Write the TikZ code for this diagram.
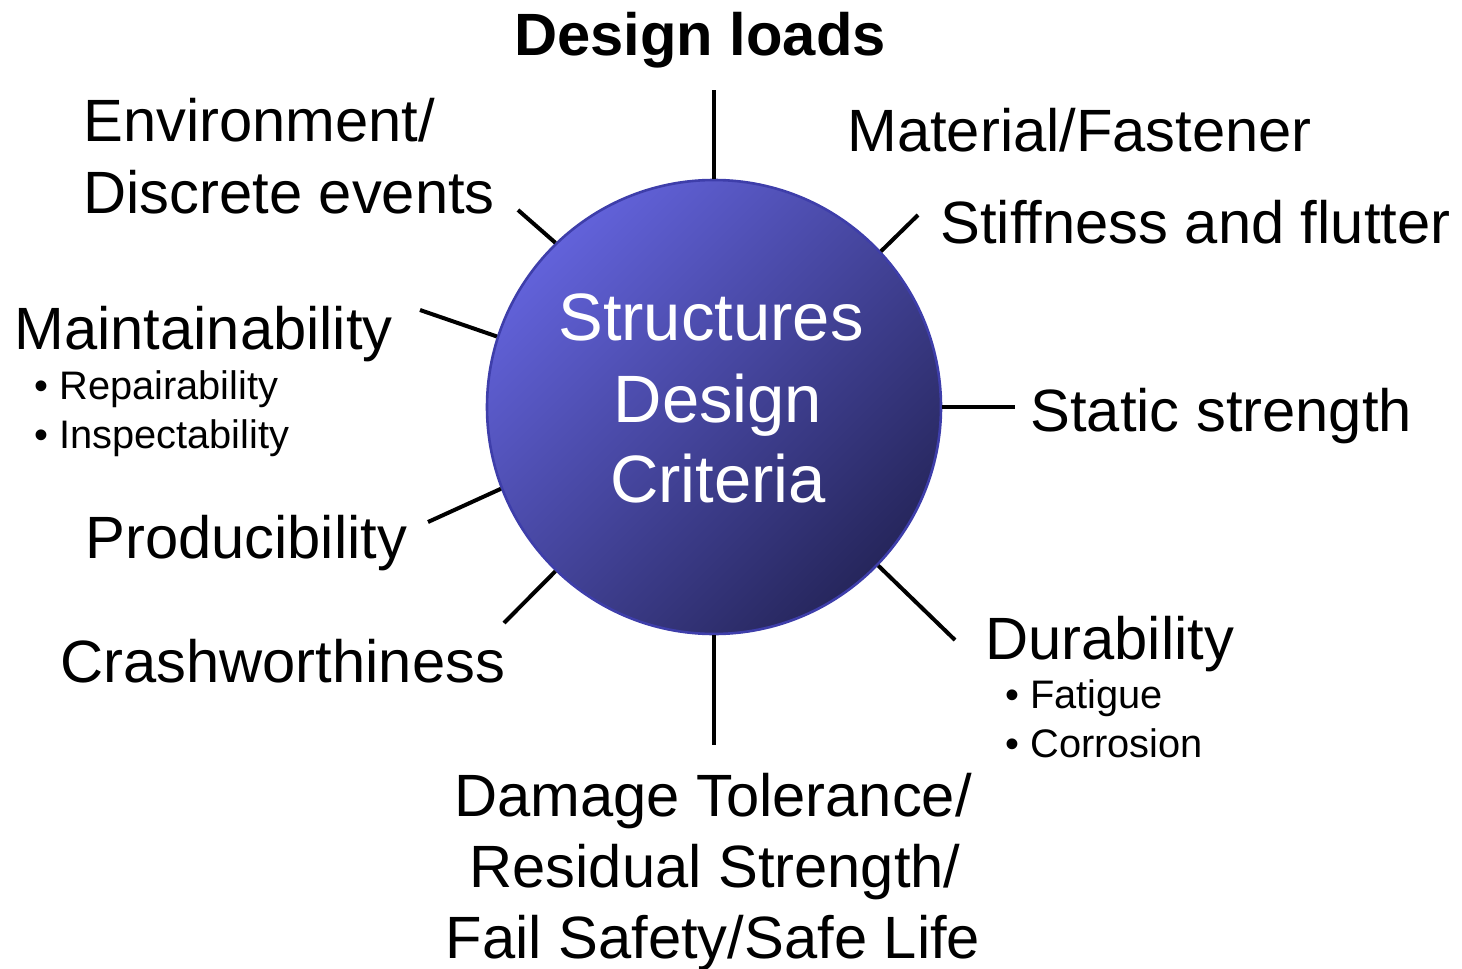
\documentclass[tikz,border=0pt]{standalone}
\usepackage{fontspec}
\setmainfont{Liberation Sans}
\definecolor{circtop}{RGB}{98,98,218}
\definecolor{circbot}{RGB}{38,38,92}
\definecolor{circedge}{RGB}{62,62,170}
\begin{document}
\begin{tikzpicture}[x=0.5pt,y=-0.5pt,
  lbl/.style={anchor=base west, inner sep=0pt, font=\fontsize{29.85}{35}\selectfont},
  clbl/.style={anchor=base, inner sep=0pt, font=\fontsize{29.85}{35}\selectfont},
  sub/.style={anchor=base west, inner sep=0pt, font=\fontsize{19.9}{24}\selectfont},
  intext/.style={anchor=base, inner sep=0pt, text=white, font=\fontsize{33.5}{40}\selectfont},
  circ/.style={circle, minimum size=227pt, inner sep=0pt, draw=circedge, line width=1.3pt,
    top color=circtop, bottom color=circbot, shading angle=45},
  spoke/.style={draw=black, line width=2pt}
]
\useasboundingbox (0,0) rectangle (1462,969);

% central circle
\node[circ] (c) at (714,407) {};
\node[intext] (t1) at (711,340) {Structures};
\node[intext] (t2) at (718,422) {Design};
\node[intext] (t3) at (718,502) {Criteria};

% spoke ends
\coordinate (eT)  at (714,90);
\coordinate (eEnv) at (518,210);
\coordinate (eSt) at (918,215);
\coordinate (eMa) at (420,310);
\coordinate (eSs) at (1015,407);
\coordinate (ePr) at (428,522);
\coordinate (eCr) at (504,623);
\coordinate (eDu) at (955,640);
\coordinate (eB)  at (714,745);

\draw[spoke] (c.90) -- (eT);
\draw[spoke] (c.134.5) -- (eEnv);
\draw[spoke] (c.43) -- (eSt);
\draw[spoke] (c.162) -- (eMa);
\draw[spoke] (c.0) -- (eSs);
\draw[spoke] (c.201.5) -- (ePr);
\draw[spoke] (c.226) -- (eCr);
\draw[spoke] (c.316) -- (eDu);
\draw[spoke] (c.270) -- (eB);

% labels
\node[clbl, font=\fontsize{29.85}{35}\selectfont\bfseries] (dl) at (700,55) {Design loads};
\node[lbl] (env1) at (83,141) {Environment/};
\node[lbl] (env2) at (83,213) {Discrete events};
\node[lbl] (mat) at (847,151) {Material/Fastener};
\node[lbl] (stf) at (940,243) {Stiffness and flutter};
\node[lbl] (mai) at (14,349) {Maintainability};
\node[sub] (rep) at (34,399) {• Repairability};
\node[sub] (ins) at (34,448) {• Inspectability};
\node[lbl] (sts) at (1030,431) {Static strength};
\node[lbl] (pro) at (85,558) {Producibility};
\node[lbl] (cra) at (60,682) {Crashworthiness};
\node[lbl] (dur) at (985,659) {Durability};
\node[sub] (fat) at (1005,708) {• Fatigue};
\node[sub] (cor) at (1005,757) {• Corrosion};
\node[clbl] (dt1) at (713,816) {Damage Tolerance/};
\node[clbl] (dt2) at (715,887) {Residual Strength/};
\node[clbl] (dt3) at (713,958) {Fail Safety/Safe Life};
\end{tikzpicture}
\end{document}
